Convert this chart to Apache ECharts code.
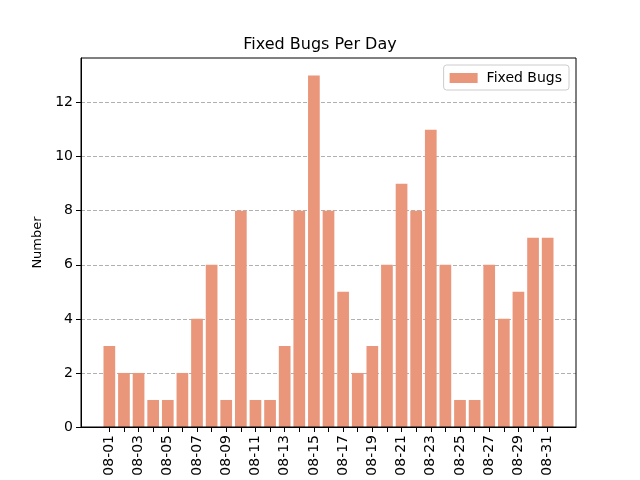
<!doctype html>
<html>
<head>
<meta charset="utf-8">
<title>Fixed Bugs Per Day</title>
<style>
  html, body { margin: 0; padding: 0; background: #fff; }
  #chart { width: 640px; height: 480px; }
</style>
</head>
<body>
<div id="chart"></div>
<script src="https://cdn.jsdelivr.net/npm/echarts@6/dist/echarts.min.js"></script>
<script>
// days of August
var days = ['08-01','08-02','08-03','08-04','08-05','08-06','08-07','08-08','08-09','08-10',
            '08-11','08-12','08-13','08-14','08-15','08-16','08-17','08-18','08-19','08-20',
            '08-21','08-22','08-23','08-24','08-25','08-26','08-27','08-28','08-29','08-30','08-31'];
var fixedBugs = [3,2,2,1,1,2,4,6,1,8,1,1,3,8,13,8,5,2,3,6,9,8,11,6,1,1,6,4,5,7,7];
var yTicks = [0,2,4,6,8,10,12];

var tickPos = days.map(function (d, i) { return i; });
var labelPos = tickPos.filter(function (i) { return i % 2 === 0; });

var chart = echarts.init(document.getElementById('chart'));
chart.setOption({
    animation: false,
    textStyle: { fontFamily: 'DejaVu Sans' },
    title: {
        text: 'Fixed Bugs Per Day',
        left: 'center',
        top: 32,
        textStyle: { fontSize: 16, fontWeight: 'normal', color: '#000' }
    },
    legend: {
        data: [{ name: 'Fixed Bugs', icon: 'rect' }],
        right: 71,
        top: 65,
        itemWidth: 28,
        itemHeight: 10,
        itemGap: 8,
        padding: [6, 7, 5, 6],
        borderColor: '#cccccc',
        borderWidth: 1,
        borderRadius: 3,
        textStyle: { fontSize: 14, color: '#000', padding: [0, 0, 0, 4] }
    },
    grid: { left: 81, right: 64, top: 58, bottom: 53 },
    xAxis: {
        type: 'value',
        min: -1.94,
        max: 31.94,
        axisLine: { onZero: false, lineStyle: { color: '#000', width: 1 } },
        axisTick: { show: true, length: 5, customValues: tickPos, lineStyle: { color: '#000' } },
        axisLabel: {
            customValues: labelPos,
            rotate: 90,
            fontSize: 14,
            color: '#000',
            margin: 8,
            formatter: function (v) { return days[Math.round(v)]; }
        },
        splitLine: { show: false }
    },
    yAxis: {
        type: 'value',
        min: 0,
        max: 13.65,
        name: 'Number',
        nameLocation: 'middle',
        nameGap: 33,
        nameTextStyle: { fontSize: 13, color: '#000' },
        axisLine: { show: true, onZero: false, lineStyle: { color: '#000', width: 1 } },
        axisTick: { show: true, length: 5, customValues: yTicks, lineStyle: { color: '#000' } },
        axisLabel: { customValues: yTicks, fontSize: 14, color: '#000', margin: 8 },
        splitLine: { show: true, lineStyle: { color: '#b0b0b0', type: [4, 2], width: 1 } }
    },
    graphic: [{
        type: 'rect',
        shape: { x: 81, y: 58, width: 495, height: 369 },
        style: { fill: 'none', stroke: '#000', lineWidth: 1 },
        z: 10,
        silent: true
    }],
    series: [{
        name: 'Fixed Bugs',
        type: 'bar',
        barWidth: 11.7,
        itemStyle: { color: '#E9967A' },
        data: fixedBugs.map(function (v, i) { return [i, v]; })
    }]
});
</script>
</body>
</html>
